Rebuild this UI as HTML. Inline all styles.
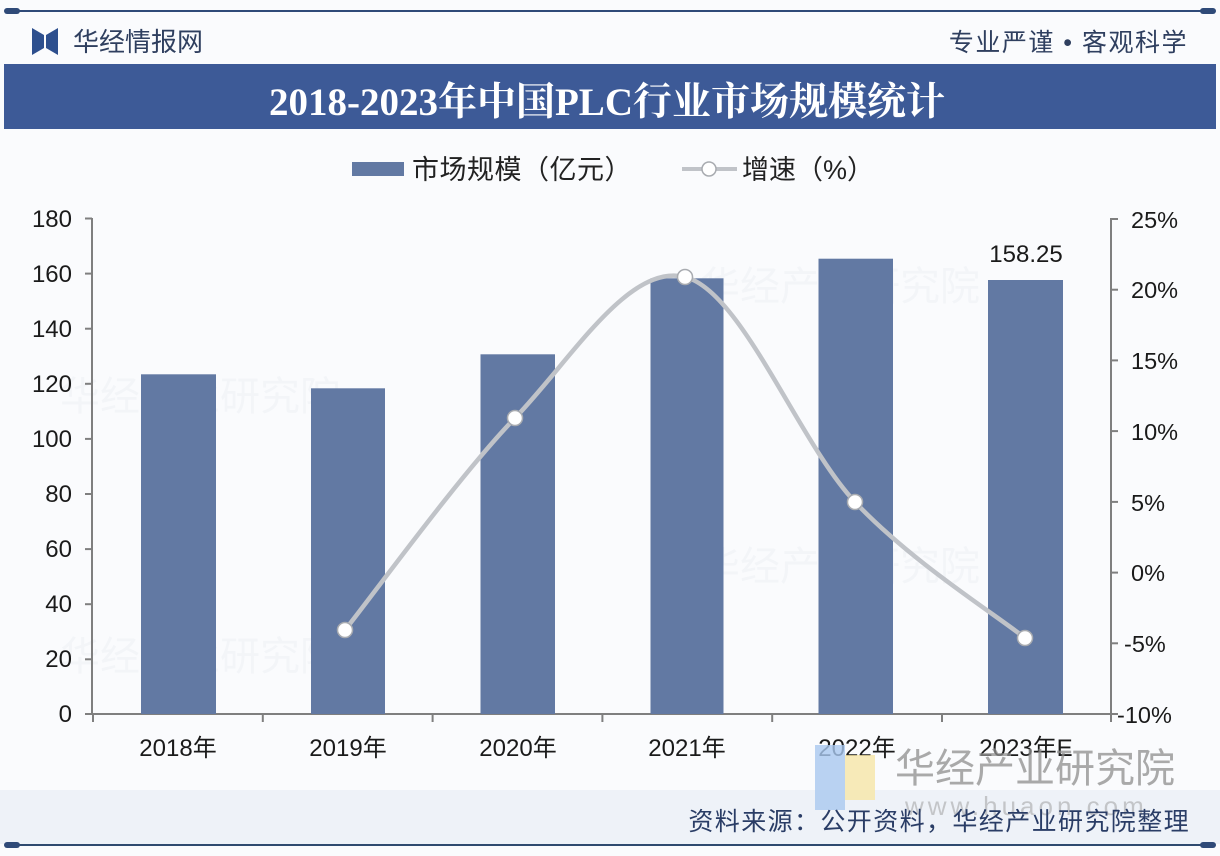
<!DOCTYPE html>
<html><head><meta charset="utf-8">
<style>
html,body{margin:0;padding:0;background:#fafbfd;}
svg{display:block;}
text{font-family:"Liberation Sans","Noto Sans CJK SC",sans-serif;}
</style></head>
<body>
<svg width="1220" height="856" viewBox="0 0 1220 856" xmlns="http://www.w3.org/2000/svg">
  <rect x="0" y="0" width="1220" height="856" fill="#fafbfd"/>
  <!-- top line -->
  <line x1="8" y1="11" x2="1212" y2="11" stroke="#2f4a78" stroke-width="2"/>
  <rect x="4" y="8" width="16" height="6" rx="3" fill="#2f4a78"/>
  <rect x="1200" y="8" width="16" height="6" rx="3" fill="#2f4a78"/>
  <!-- logo -->
  <polygon points="32,28 44,35 44,48 32,55" fill="#2d4f8e"/>
  <polygon points="58,28 46,35 46,48 58,55" fill="#2d4f8e"/>
  <text x="73" y="51" font-size="26" fill="#2f3f5f">华经情报网</text>
  <text x="1188" y="51" font-size="25" fill="#2f3f5f" text-anchor="end" letter-spacing="1.5">专业严谨 • 客观科学</text>
  <!-- banner -->
  <rect x="4" y="64" width="1212" height="65" fill="#3d5a97"/>
  <text x="607" y="115" font-size="39" font-weight="bold" fill="#ffffff" text-anchor="middle" style="font-family:'Liberation Serif','Noto Serif CJK SC',serif;">2018-2023年中国PLC行业市场规模统计</text>

  <!-- faint watermarks -->
  <g fill="#e9edf3" font-size="40" opacity="0.4">
    <text x="60" y="410">华经产业研究院</text>
    <text x="700" y="300">华经产业研究院</text>
    <text x="60" y="670">华经产业研究院</text>
    <text x="700" y="580">华经产业研究院</text>
  </g>

  <!-- legend -->
  <rect x="352" y="162" width="52" height="14" fill="#6279a3"/>
  <text x="412" y="179" font-size="27" fill="#222" letter-spacing="0.5">市场规模（亿元）</text>
  <line x1="682" y1="169" x2="737" y2="169" stroke="#c0c3c8" stroke-width="4"/>
  <circle cx="709" cy="169" r="7" fill="#fff" stroke="#a8abb0" stroke-width="1.5"/>
  <text x="742" y="179" font-size="27" fill="#222">增速（%）</text>

  <!-- axes -->
  <g stroke="#7f7f7f" stroke-width="2">
    <line x1="92" y1="218" x2="92" y2="715"/>
    <line x1="1111" y1="218" x2="1111" y2="715"/>
    <line x1="92" y1="714" x2="1111" y2="714"/>
    <line x1="85" y1="218.5" x2="92" y2="218.5"/>
    <line x1="85" y1="273.6" x2="92" y2="273.6"/>
    <line x1="85" y1="328.7" x2="92" y2="328.7"/>
    <line x1="85" y1="383.8" x2="92" y2="383.8"/>
    <line x1="85" y1="438.9" x2="92" y2="438.9"/>
    <line x1="85" y1="494" x2="92" y2="494"/>
    <line x1="85" y1="549.1" x2="92" y2="549.1"/>
    <line x1="85" y1="604.2" x2="92" y2="604.2"/>
    <line x1="85" y1="659.3" x2="92" y2="659.3"/>
    <line x1="85" y1="714" x2="92" y2="714"/>
    <line x1="1111" y1="219" x2="1118" y2="219"/>
    <line x1="1111" y1="289.7" x2="1118" y2="289.7"/>
    <line x1="1111" y1="360.4" x2="1118" y2="360.4"/>
    <line x1="1111" y1="431.1" x2="1118" y2="431.1"/>
    <line x1="1111" y1="501.9" x2="1118" y2="501.9"/>
    <line x1="1111" y1="572.6" x2="1118" y2="572.6"/>
    <line x1="1111" y1="643.3" x2="1118" y2="643.3"/>
    <line x1="1111" y1="714" x2="1118" y2="714"/>
    <line x1="93" y1="714" x2="93" y2="722"/>
    <line x1="262.8" y1="714" x2="262.8" y2="722"/>
    <line x1="432.6" y1="714" x2="432.6" y2="722"/>
    <line x1="602.4" y1="714" x2="602.4" y2="722"/>
    <line x1="772.2" y1="714" x2="772.2" y2="722"/>
    <line x1="942" y1="714" x2="942" y2="722"/>
    <line x1="1111" y1="714" x2="1111" y2="722"/>
  </g>

  <!-- left labels -->
  <g font-size="24" fill="#1a1a1a" text-anchor="end">
    <text x="72" y="227">180</text>
    <text x="72" y="282">160</text>
    <text x="72" y="337">140</text>
    <text x="72" y="392">120</text>
    <text x="72" y="447">100</text>
    <text x="72" y="502">80</text>
    <text x="72" y="557">60</text>
    <text x="72" y="612">40</text>
    <text x="72" y="667">20</text>
    <text x="72" y="722">0</text>
  </g>
  <!-- right labels -->
  <g font-size="23.5" fill="#1a1a1a" text-anchor="start">
    <text x="1131" y="228">25%</text>
    <text x="1131" y="298">20%</text>
    <text x="1131" y="369">15%</text>
    <text x="1131" y="440">10%</text>
    <text x="1131" y="511">5%</text>
    <text x="1131" y="581">0%</text>
    <text x="1124" y="652">-5%</text>
    <text x="1117" y="723">-10%</text>
  </g>

  <!-- bars -->
  <g fill="#6279a3">
    <rect x="141" y="374.3" width="75" height="339.7"/>
    <rect x="311" y="388.3" width="74" height="325.7"/>
    <rect x="480.5" y="354.3" width="74.5" height="359.7"/>
    <rect x="650.5" y="278.3" width="73" height="435.7"/>
    <rect x="818.5" y="258.7" width="74.5" height="455.3"/>
    <rect x="988" y="280" width="75" height="434"/>
  </g>
  <text x="1026" y="262" font-size="24" fill="#1a1a1a" text-anchor="middle">158.25</text>

  <!-- x labels -->
  <g font-size="24" fill="#1a1a1a" text-anchor="middle">
    <text x="178" y="756">2018年</text>
    <text x="348" y="756">2019年</text>
    <text x="518" y="756">2020年</text>
    <text x="687" y="756">2021年</text>
    <text x="857" y="756">2022年</text>
    <text x="1026" y="756">2023年E</text>
  </g>

  <!-- line -->
  <path d="M345,630 C373.3,594.7 458.3,476.8 515,418 C571.7,359.2 628.3,263 685,277 C741.7,291 798.3,441.8 855,502 C911.7,562.2 996.7,615.3 1025,638"
        fill="none" stroke="#c0c3c8" stroke-width="4.5" stroke-linecap="round"/>
  <g fill="#ffffff" stroke="#a8abb0" stroke-width="1.5">
    <circle cx="345" cy="630" r="7.5"/>
    <circle cx="515" cy="418" r="7.5"/>
    <circle cx="685" cy="277" r="7.5"/>
    <circle cx="855" cy="502" r="7.5"/>
    <circle cx="1025" cy="638" r="7.5"/>
  </g>

  <!-- footer band -->
  <rect x="0" y="790" width="1220" height="54" fill="#eef2f8"/>
  <rect x="815" y="745" width="30" height="65" fill="#a9c8ef" opacity="0.8"/>
  <rect x="845" y="755" width="30" height="45" fill="#f6e6a6" opacity="0.8"/>
  <text x="895" y="782" font-size="40" fill="#8e8e8e" opacity="0.75">华经产业研究院</text>
  <text x="905" y="815" font-size="26" fill="#9a9a9a" opacity="0.5" letter-spacing="4">www.huaon.com</text>
  <text x="1190" y="830" font-size="25" fill="#2a3d66" text-anchor="end" letter-spacing="1.4">资料来源：公开资料，华经产业研究院整理</text>
  <!-- bottom line -->
  <line x1="8" y1="845" x2="1212" y2="845" stroke="#2f4a6f" stroke-width="2"/>
  <rect x="4" y="842" width="16" height="6" rx="3" fill="#2f4a78"/>
  <rect x="1200" y="842" width="16" height="6" rx="3" fill="#2f4a78"/>
</svg>
</body></html>
